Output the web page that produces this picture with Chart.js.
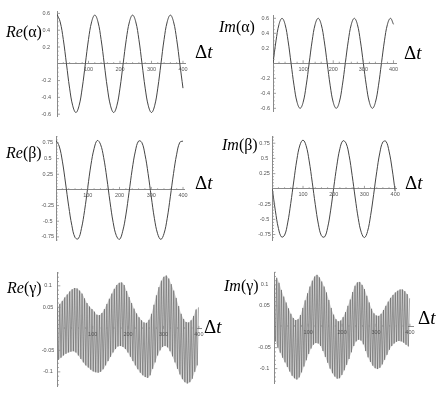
<!DOCTYPE html>
<html><head><meta charset="utf-8">
<script src="https://cdn.jsdelivr.net/npm/chart.js@4"></script>
<style>
html,body{margin:0;padding:0;background:#fff;width:443px;height:402px;overflow:hidden;}
#wrap{position:relative;width:443px;height:402px;}
canvas{position:absolute;}
.lbl{position:absolute;font-family:"Liberation Serif","Times New Roman",serif;font-size:16px;color:#000;white-space:nowrap;line-height:1;}
.lbl i{font-style:italic;}
.dt{font-size:19px;}
</style></head>
<body><div id="wrap">
<div class="lbl" style="left:6px;top:24px"><i>Re</i>(α)</div>
<div class="lbl dt" style="left:195px;top:42px">Δ<i>t</i></div>
<div class="lbl" style="left:219px;top:19px"><i>Im</i>(α)</div>
<div class="lbl dt" style="left:404px;top:43px">Δ<i>t</i></div>
<div class="lbl" style="left:6px;top:145px"><i>Re</i>(β)</div>
<div class="lbl dt" style="left:195px;top:173px">Δ<i>t</i></div>
<div class="lbl" style="left:222px;top:137px"><i>Im</i>(β)</div>
<div class="lbl dt" style="left:405px;top:173px">Δ<i>t</i></div>
<div class="lbl" style="left:7px;top:280px"><i>Re</i>(γ)</div>
<div class="lbl dt" style="left:204px;top:317px">Δ<i>t</i></div>
<div class="lbl" style="left:224px;top:278px"><i>Im</i>(γ)</div>
<div class="lbl dt" style="left:418px;top:308px">Δ<i>t</i></div>
</div>
<script>
// ---- data ----
const deltaT = [0,10,20,30,40,50,60,70,80,90,100,110,120,130,140,150,160,170,180,190,200,210,220,230,240,250,260,270,280,290,300,310,320,330,340,350,360,370,380,390,400];
const reAlpha = [0.59,0.50,0.29,0,-0.29,-0.50,-0.58,-0.50,-0.29,0,0.29,0.50,0.58,0.50,0.29,0,-0.29,-0.50,-0.58,-0.50,-0.29,0,0.29,0.50,0.58,0.50,0.29,0,-0.29,-0.50,-0.58,-0.50,-0.29,0,0.29,0.50,0.58,0.50,0.29,0,-0.29];
const imAlpha = [0,0.30,0.52,0.60,0.52,0.30,0,-0.30,-0.52,-0.60,-0.52,-0.30,0,0.30,0.52,0.60,0.52,0.30,0,-0.30,-0.52,-0.60,-0.52,-0.30,0,0.30,0.52,0.60,0.52,0.30,0,-0.30,-0.52,-0.60,-0.52,-0.30,0,0.30,0.52,0.60,0.52];
const reBeta = [0.79,0.70,0.46,0.11,-0.26,-0.57,-0.76,-0.78,-0.62,-0.33,0.04,0.40,0.66,0.79,0.73,0.52,0.19,-0.19,-0.52,-0.73,-0.79,-0.66,-0.40,-0.04,0.33,0.62,0.78,0.76,0.57,0.26,-0.11,-0.46,-0.70,-0.79,-0.70,-0.46,-0.11,0.26,0.57,0.76,0.78];
const imBeta = [0,-0.36,-0.65,-0.79,-0.76,-0.56,-0.24,0.13,0.48,0.72,0.80,0.71,0.46,0.11,-0.26,-0.58,-0.77,-0.79,-0.64,-0.35,0.02,0.38,0.66,0.79,0.75,0.55,0.22,-0.15,-0.49,-0.72,-0.80,-0.70,-0.44,-0.09,0.28,0.59,0.77,0.78,0.62,0.33,-0.04];

// fast-oscillating gamma: crest values (tFastHi) and trough values (tFastLo)
const tFastHi = [0,7,14,21,28,35,42,49,56,63,70,77,84,91,98,105,112,119,126,133,140,147,154,161,168,175,182,189,196,203,210,217,224,231,238,245,252,259,266,273,280,287,294,301,308,315,322,329,336,343,350,357,364,371,378,385,392,399];
const tFastLo = [3.5,10.5,17.5,24.5,31.5,38.5,45.5,52.5,59.5,66.5,73.5,80.5,87.5,94.5,101.5,108.5,115.5,122.5,129.5,136.5,143.5,150.5,157.5,164.5,171.5,178.5,185.5,192.5,199.5,206.5,213.5,220.5,227.5,234.5,241.5,248.5,255.5,262.5,269.5,276.5,283.5,290.5,297.5,304.5,311.5,318.5,325.5,332.5,339.5,346.5,353.5,360.5,367.5,374.5,381.5,388.5,395.5];
const reGammaHi = [0.05,0.058,0.065,0.073,0.08,0.087,0.092,0.095,0.094,0.089,0.082,0.071,0.06,0.052,0.046,0.04,0.033,0.032,0.037,0.046,0.058,0.07,0.082,0.093,0.102,0.107,0.108,0.102,0.088,0.074,0.06,0.047,0.036,0.027,0.02,0.015,0.014,0.021,0.035,0.056,0.078,0.097,0.112,0.121,0.124,0.117,0.104,0.089,0.072,0.053,0.035,0.023,0.016,0.015,0.02,0.03,0.045,0.05];
const reGammaLo = [-0.072,-0.067,-0.062,-0.058,-0.055,-0.053,-0.052,-0.055,-0.062,-0.07,-0.078,-0.085,-0.09,-0.095,-0.099,-0.101,-0.102,-0.1,-0.094,-0.085,-0.075,-0.065,-0.055,-0.047,-0.041,-0.04,-0.042,-0.047,-0.055,-0.065,-0.075,-0.085,-0.094,-0.102,-0.108,-0.112,-0.114,-0.108,-0.093,-0.078,-0.062,-0.05,-0.042,-0.04,-0.043,-0.052,-0.064,-0.078,-0.093,-0.106,-0.117,-0.124,-0.127,-0.124,-0.116,-0.1,-0.085];
const imGammaHi = [0.1,0.117,0.105,0.088,0.072,0.058,0.044,0.031,0.021,0.016,0.018,0.028,0.045,0.063,0.08,0.096,0.11,0.12,0.124,0.118,0.108,0.096,0.082,0.064,0.045,0.029,0.018,0.013,0.015,0.023,0.035,0.05,0.065,0.083,0.098,0.106,0.107,0.1,0.09,0.074,0.058,0.043,0.032,0.027,0.026,0.031,0.04,0.05,0.06,0.069,0.076,0.082,0.086,0.089,0.089,0.085,0.078,0.068];
const imGammaLo = [-0.035,-0.05,-0.062,-0.074,-0.085,-0.096,-0.107,-0.117,-0.123,-0.126,-0.121,-0.109,-0.095,-0.08,-0.065,-0.052,-0.043,-0.039,-0.04,-0.046,-0.058,-0.072,-0.086,-0.1,-0.111,-0.119,-0.124,-0.123,-0.115,-0.104,-0.091,-0.077,-0.061,-0.046,-0.035,-0.031,-0.033,-0.042,-0.058,-0.073,-0.084,-0.093,-0.099,-0.101,-0.098,-0.09,-0.079,-0.067,-0.055,-0.046,-0.04,-0.036,-0.034,-0.035,-0.038,-0.043,-0.047];

const xTickLabels = [100,200,300,400];
const alphaYTicks = [-0.6,-0.4,-0.2,0.2,0.4,0.6];
const betaYTicks = [-0.75,-0.5,-0.25,0.25,0.5,0.75];
const gammaYTicks = [-0.1,-0.05,0.05,0.1];

// ---- helpers ----
function smoothPts(vals){ return deltaT.map((t,i)=>({x:t,y:vals[i]})); }
function fastPts(hi,lo){ const out=[]; for(let i=0;i<tFastHi.length;i++){ out.push({x:tFastHi[i],y:hi[i]}); if(i<tFastLo.length) out.push({x:tFastLo[i],y:lo[i]}); } return out; }
function envPts(ts,vals){ return ts.map((t,i)=>({x:t,y:vals[i]})); }

const minorTicksPlugin = {
  id:'minorTicks',
  afterDraw(chart, args, opts){
    const {ctx, scales:{x,y}} = chart;
    const y0 = y.getPixelForValue(0), x0 = x.getPixelForValue(0);
    ctx.save(); ctx.strokeStyle='#8a8a8a'; ctx.lineWidth=0.8; ctx.beginPath();
    const kx1 = Math.floor(x.max/opts.xStep+1e-9);
    for(let k=1;k<=kx1;k++){ const v=k*opts.xStep; const major = xTickLabels.some(m=>Math.abs(m-v)<1e-9); const len = major?3:1.6; const px=x.getPixelForValue(v); ctx.moveTo(px,y0); ctx.lineTo(px,y0-len); }
    const ky0 = Math.ceil(y.min/opts.yStep-1e-9), ky1 = Math.floor(y.max/opts.yStep+1e-9);
    for(let k=ky0;k<=ky1;k++){ if(k===0) continue; const v=k*opts.yStep; const major = opts.yMajor.some(m=>Math.abs(m-v)<1e-9); const len = major?3:1.6; const py=y.getPixelForValue(v); ctx.moveTo(x0,py); ctx.lineTo(x0+len,py); }
    ctx.stroke(); ctx.restore();
  }
};

function smoothSets(vals){ return [{data:smoothPts(vals), borderColor:'#454545', borderWidth:1, pointRadius:0, tension:0.4, fill:false}]; }
function fastSets(hi,lo){ return [
  {data:fastPts(hi,lo), borderColor:'#555555', borderWidth:0.5, pointRadius:0, tension:0, fill:false, order:0},
  {data:envPts(tFastHi,hi), borderWidth:0, pointRadius:0, tension:0.3, fill:'+1', backgroundColor:'#d4d4d4', order:2},
  {data:envPts(tFastLo,lo), borderWidth:0, pointRadius:0, tension:0.3, fill:false, order:3}
]; }

const panels = [
  {area:[57,10,185.5,116.7], xMax:408, yMin:-0.63, yMax:0.625, yTicks:alphaYTicks, yStep:0.05, sets:smoothSets(reAlpha), pad:6},
  {area:[273,15,396.5,111.7], xMax:410, yMin:-0.645, yMax:0.644, yTicks:alphaYTicks, yStep:0.05, sets:smoothSets(imAlpha), pad:3},
  {area:[56,136.7,184.3,240], xMax:404, yMin:-0.80, yMax:0.85, yTicks:betaYTicks, yStep:0.05, sets:smoothSets(reBeta), pad:2},
  {area:[272.3,136.5,396.7,240], xMax:405, yMin:-0.84, yMax:0.86, yTicks:betaYTicks, yStep:0.05, sets:smoothSets(imBeta), pad:1.5},
  {area:[57.3,272.5,201.7,386.5], xMax:408, yMin:-0.134, yMax:0.131, yTicks:gammaYTicks, yStep:0.01, sets:fastSets(reGammaHi,reGammaLo), pad:3},
  {area:[274.3,272.3,413.3,383.3], xMax:410, yMin:-0.135, yMax:0.13, yTicks:gammaYTicks, yStep:0.01, sets:fastSets(imGammaHi,imGammaLo), pad:3.5}
];

const tickFont = {family:'"Liberation Sans", Arial, sans-serif', size:5.5};
const wrap = document.getElementById('wrap');
panels.forEach(p=>{
  const [l,t,r,b] = p.area;
  const cx = Math.floor(l)-45, cy = Math.floor(t)-8;
  const w = Math.ceil(r)-cx+25, h = Math.ceil(b)-cy+14;
  const yw = l-cx;
  const c = document.createElement('canvas');
  c.width=w; c.height=h;
  c.style.left=cx+'px'; c.style.top=cy+'px'; c.style.width=w+'px'; c.style.height=h+'px';
  wrap.insertBefore(c, wrap.firstChild);
  new Chart(c, {
    type:'line',
    data:{datasets:p.sets},
    options:{
      responsive:false, animation:false, devicePixelRatio:1,
      layout:{padding:{left:0, top:t-cy, right:cx+w-r, bottom:cy+h-b}},
      plugins:{legend:{display:false}, tooltip:{enabled:false}, filler:{propagate:false}, minorTicks:{xStep:20, yStep:p.yStep, yMajor:p.yTicks}},
      scales:{
        x:{type:'linear', min:0, max:p.xMax, position:{y:0}, grid:{display:false, drawTicks:false, tickLength:0},
           border:{color:'#8a8a8a', width:1},
           ticks:{z:1, autoSkip:false, maxRotation:0, padding:2.5, font:tickFont, color:'#555', callback:v=>String(v)},
           afterBuildTicks:s=>{ s.ticks = xTickLabels.map(v=>({value:v})); },
           afterFit:s=>{ s.height=0; }},
        y:{type:'linear', min:p.yMin, max:p.yMax, grid:{display:false, drawTicks:false, tickLength:0},
           border:{color:'#8a8a8a', width:1},
           ticks:{z:1, autoSkip:false, crossAlign:'center', padding:p.pad, font:tickFont, color:'#555', callback:v=>String(v)},
           afterBuildTicks:s=>{ s.ticks = p.yTicks.map(v=>({value:v})); },
           afterFit:s=>{ s.width=yw; }}
      }
    },
    plugins:[minorTicksPlugin]
  });
});
</script>
</body></html>
